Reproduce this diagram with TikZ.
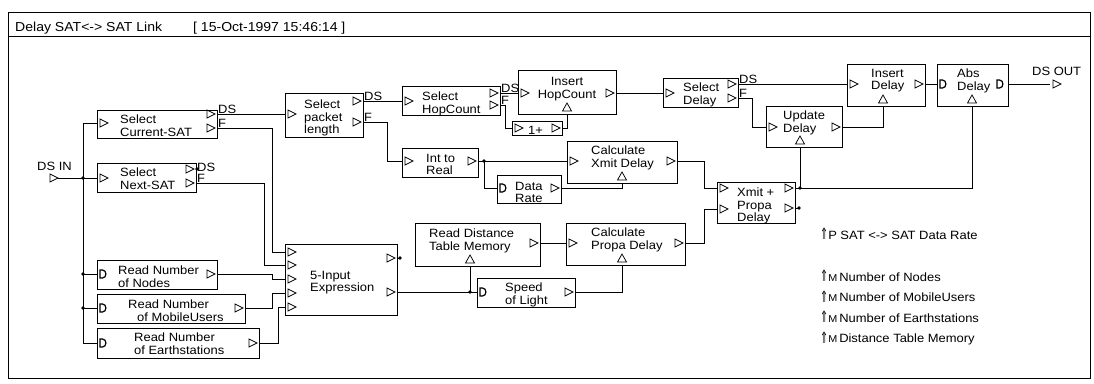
\documentclass[tikz,border=0pt]{standalone}
\usepackage{fontspec}
\usepackage{graphicx}
\setmainfont[FakeStretch=1.08]{Liberation Sans}
\newfontfamily\symfont{DejaVu Sans}
\newcommand\uparr{\raisebox{-0.5pt}{\scalebox{0.8}[1.3]{\symfont ⇑}}}
\tikzset{
  wire/.style={line width=0.9pt},
  blk/.style={draw,line width=0.9pt,inner sep=0pt,anchor=north west},
  port/.style={draw,line width=0.75pt,line join=miter},
  dport/.style={draw,line width=1.2pt},
  txt/.style={inner sep=0pt,anchor=north west,align=left,font=\fontsize{12}{12.5}\selectfont},
  lab/.style={inner sep=0pt,anchor=base west,font=\fontsize{12}{12.5}\selectfont},
  ttl/.style={inner sep=0pt,anchor=base west,font=\fontsize{13}{14}\selectfont},
  jdot/.style={fill,circle,inner sep=0pt,minimum size=3.6pt},
  pics/inp/.style={code={\draw[port] (3,-4) -- (11,0) -- (3,4) -- cycle;}},
  pics/outp/.style={code={\draw[port] (-10,-4) -- (-2,0) -- (-10,4) -- cycle;}},
  pics/upp/.style={code={\draw[port] (-4.5,-3) -- (0,-11) -- (4.5,-3) -- cycle;}},
  pics/dinp/.style={code={\draw[dport] (3,-4) -- (5.5,-4) .. controls (10,-4) and (10,4) .. (5.5,4) -- (3,4) -- cycle;}},
  pics/doutp/.style={code={\draw[dport] (-11,-4) -- (-8.5,-4) .. controls (-4,-4) and (-4,4) .. (-8.5,4) -- (-11,4) -- cycle;}},
}
\begin{document}
\begin{tikzpicture}[x=1pt,y=-1pt]
\useasboundingbox (0,0) rectangle (1094,383);
% frame
\draw[line width=1pt] (8,12) rectangle (1090,378);
\draw[line width=1pt] (8,36) -- (1090,36);
\node[ttl] (title) at (15,31) {Delay SAT<-> SAT Link};
\node[ttl] (date) at (193,31) {[ 15-Oct-1997 15:46:14 ]};

% blocks
\node[blk,minimum width=120,minimum height=28] (csat) at (97,110) {};
\node[blk,minimum width=99,minimum height=29] (nsat) at (97,163) {};
\node[blk,minimum width=120,minimum height=29] (nodes) at (97,260) {};
\node[blk,minimum width=148,minimum height=29] (mob) at (97,294) {};
\node[blk,minimum width=162,minimum height=30] (earth) at (97,328) {};
\node[blk,minimum width=112,minimum height=71] (expr) at (285,244) {};
\node[blk,minimum width=78,minimum height=44] (spl) at (285,93) {};
\node[blk,minimum width=98,minimum height=29] (shc) at (402,86) {};
\node[blk,minimum width=98,minimum height=44] (ihc) at (518,70) {};
\node[blk,minimum width=50,minimum height=14] (one) at (512,121) {};
\node[blk,minimum width=76,minimum height=29] (itr) at (402,148) {};
\node[blk,minimum width=64,minimum height=28] (dr) at (497,175) {};
\node[blk,minimum width=110,minimum height=42] (cxd) at (567,141) {};
\node[blk,minimum width=75,minimum height=29] (sd) at (663,78) {};
\node[blk,minimum width=76,minimum height=41] (ud) at (766,106) {};
\node[blk,minimum width=78,minimum height=42] (id) at (847,64) {};
\node[blk,minimum width=71,minimum height=42] (ad) at (937,64) {};
\node[blk,minimum width=78,minimum height=41] (xpd) at (717,182) {};
\node[blk,minimum width=125,minimum height=43] (rdt) at (415,223) {};
\node[blk,minimum width=119,minimum height=42] (cpd) at (566,223) {};
\node[blk,minimum width=98,minimum height=29] (sol) at (477,278) {};

% block texts
\node[txt] (tcsat) at (120,115) {Select\\Current-SAT};
\node[txt] (tnsat) at (120,168) {Select\\Next-SAT};
\node[txt] (tnodes) at (118,266) {Read Number\\of Nodes};
\node[txt] (tmob) at (128,300) {Read Number\\\hspace*{9pt}of MobileUsers};
\node[txt] (tearth) at (134,333) {Read Number\\of Earthstations};
\node[txt] (texpr) at (310,271) {5-Input\\Expression};
\node[txt] (tspl) at (304,100) {Select\\packet\\length};
\node[txt] (tshc) at (422,92) {Select\\HopCount};
\node[txt,anchor=north,align=center] (tihc) at (567,77.5) {Insert\\HopCount};
\node[txt] (tone) at (528,126) {1+};
\node[txt] (titr) at (426,154) {Int to\\Real};
\node[txt] (tdr) at (515,182) {Data\\Rate};
\node[txt] (tcxd) at (591,146) {Calculate\\Xmit Delay};
\node[txt] (tsd) at (683,83) {Select\\Delay};
\node[txt] (tud) at (783,111) {Update\\Delay};
\node[txt] (tid) at (871,69) {Insert\\Delay};
\node[txt] (tad) at (957,69) {Abs\\Delay};
\node[txt] (txpd) at (737,188) {Xmit +\\Propa\\Delay};
\node[txt] (trdt) at (429,229) {Read Distance\\Table Memory};
\node[txt] (tcpd) at (591,228) {Calculate\\Propa Delay};
\node[txt] (tsol) at (505,283) {Speed\\of Light};

% port coordinates
\coordinate (dsin) at (58,178);
\coordinate (dsout) at (1050,84);
\coordinate (csat-i) at (97,123);
\coordinate (csat-ds) at (217,114);
\coordinate (csat-f) at (217,128);
\coordinate (nsat-i) at (97,178);
\coordinate (nsat-ds) at (196,169);
\coordinate (nsat-f) at (196,183);
\coordinate (nodes-i) at (97,274);
\coordinate (nodes-o) at (217,274);
\coordinate (mob-i) at (97,308);
\coordinate (mob-o) at (245,308);
\coordinate (earth-i) at (97,343);
\coordinate (earth-o) at (259,343);
\coordinate (expr-i1) at (285,252);
\coordinate (expr-i2) at (285,265);
\coordinate (expr-i3) at (285,279);
\coordinate (expr-i4) at (285,293);
\coordinate (expr-i5) at (285,307);
\coordinate (expr-o1) at (397,258);
\coordinate (expr-o2) at (397,292);
\coordinate (spl-i) at (285,114);
\coordinate (spl-ds) at (363,101);
\coordinate (spl-f) at (363,122);
\coordinate (shc-i) at (402,101);
\coordinate (shc-ds) at (500,93);
\coordinate (shc-f) at (500,105);
\coordinate (ihc-i) at (518,93);
\coordinate (ihc-o) at (616,93);
\coordinate (ihc-u) at (567,114);
\coordinate (one-i) at (512,128);
\coordinate (one-o) at (562,128);
\coordinate (itr-i) at (402,161);
\coordinate (itr-o) at (478,161);
\coordinate (dr-i) at (497,188);
\coordinate (dr-o) at (561,188);
\coordinate (cxd-i) at (567,161);
\coordinate (cxd-o) at (677,161);
\coordinate (cxd-u) at (622,183);
\coordinate (sd-i) at (663,93);
\coordinate (sd-ds) at (738,84);
\coordinate (sd-f) at (738,98);
\coordinate (ud-i) at (766,127);
\coordinate (ud-o) at (842,127);
\coordinate (ud-u) at (800,147);
\coordinate (id-i) at (847,84);
\coordinate (id-o) at (925,84);
\coordinate (id-u) at (883,106);
\coordinate (ad-i) at (937,84);
\coordinate (ad-o) at (1008,84);
\coordinate (ad-u) at (972,106);
\coordinate (xpd-i1) at (717,188);
\coordinate (xpd-i2) at (717,209);
\coordinate (xpd-o1) at (795,188);
\coordinate (xpd-o2) at (795,208);
\coordinate (rdt-o) at (540,243);
\coordinate (rdt-u) at (470,266);
\coordinate (cpd-i) at (566,243);
\coordinate (cpd-o) at (685,243);
\coordinate (cpd-u) at (622,265);
\coordinate (sol-i) at (477,292);
\coordinate (sol-o) at (575,292);
% junctions
\coordinate (j1) at (83,178);
\coordinate (j2) at (83,274);
\coordinate (j3) at (83,308);
\coordinate (j4) at (400,258);
\coordinate (j5) at (470,292);
\coordinate (j6) at (484,161);
\coordinate (j7) at (800,188);
\coordinate (j8) at (799,208);
\coordinate (j9) at (197,169);

% ports
\pic at (47,178) {inp};
\pic at (dsout) {inp};
\foreach \p in {csat-i,nsat-i,expr-i1,expr-i2,expr-i3,expr-i4,expr-i5,spl-i,shc-i,ihc-i,one-i,itr-i,cxd-i,sd-i,ud-i,id-i,xpd-i1,xpd-i2,cpd-i}
  \pic at (\p) {inp};
\foreach \p in {csat-ds,csat-f,nsat-ds,nsat-f,nodes-o,mob-o,earth-o,expr-o1,expr-o2,spl-ds,spl-f,shc-ds,shc-f,ihc-o,one-o,itr-o,dr-o,cxd-o,sd-ds,sd-f,ud-o,id-o,xpd-o1,xpd-o2,rdt-o,cpd-o,sol-o}
  \pic at (\p) {outp};
\foreach \p in {ihc-u,cxd-u,ud-u,id-u,ad-u,rdt-u,cpd-u}
  \pic at (\p) {upp};
\foreach \p in {nodes-i,mob-i,earth-i,dr-i,sol-i,ad-i}
  \pic at (\p) {dinp};
\pic at (ad-o) {doutp};

% wires
\draw[wire] (dsin) -- (nsat-i);
\draw[wire] (csat-i) -- ++(-14,0) |- (earth-i);
\draw[wire] (j2) -- (nodes-i);
\draw[wire] (j3) -- (mob-i);
\draw[wire] (csat-ds) -- (spl-i);
\draw[wire] (csat-f) -- ++(55,0) |- (expr-i1);
\draw[wire] (nsat-f) -- ++(68,0) |- (expr-i2);
\draw[wire] (nodes-o) -- ++(55,0) |- (expr-i3);
\draw[wire] (mob-o) -- ++(27,0) |- (expr-i4);
\draw[wire] (earth-o) -- ++(19,0) |- (expr-i5);
\draw[wire] (expr-o1) -- (j4);
\draw[wire] (nsat-ds) -- (j9);
\draw[wire] (xpd-o2) -- (j8);
\draw[wire] (expr-o2) -- (sol-i);
\draw[wire] (j5) -- (rdt-u);
\draw[wire] (rdt-o) -- (cpd-i);
\draw[wire] (cpd-o) -- ++(19,0) |- (xpd-i2);
\draw[wire] (sol-o) -| (cpd-u);
\draw[wire] (spl-ds) -- (shc-i);
\draw[wire] (spl-f) -- ++(24,0) |- (itr-i);
\draw[wire] (itr-o) -- (cxd-i);
\draw[wire] (j6) |- (dr-i);
\draw[wire] (dr-o) -| (cxd-u);
\draw[wire] (cxd-o) -- ++(27,0) |- (xpd-i1);
\draw[wire] (shc-ds) -- (ihc-i);
\draw[wire] (shc-f) -- ++(5,0) |- (one-i);
\draw[wire] (one-o) -| (ihc-u);
\draw[wire] (ihc-o) -- (sd-i);
\draw[wire] (sd-ds) -- (id-i);
\draw[wire] (sd-f) -- ++(14,0) |- (ud-i);
\draw[wire] (ud-o) -| (id-u);
\draw[wire] (id-o) -- (ad-i);
\draw[wire] (ad-o) -- (dsout);
\draw[wire] (xpd-o1) -| (ad-u);
\draw[wire] (j7) -- (ud-u);
% junction dots
\foreach \j in {j1,j2,j3,j4,j5,j6,j7,j8,j9}
  \node[jdot] (\j d) at (\j) {};

% port labels
\node[lab] (lcsatds) at (218,113.5) {DS};
\node[lab] (lcsatf) at (218,127.5) {F};
\node[lab] (lnsatds) at (197,171) {DS};
\node[lab] (lnsatf) at (197,182.5) {F};
\node[lab] (lsplds) at (364,100.5) {DS};
\node[lab] (lsplf) at (364,121.5) {F};
\node[lab] (lshcds) at (501,92.5) {DS};
\node[lab] (lshcf) at (501,104.5) {F};
\node[lab] (lsdds) at (739,83.5) {DS};
\node[lab] (lsdf) at (739,97.5) {F};
\node[lab] (ldsin) at (37,170) {DS IN};
\node[lab] (ldsout) at (1032,75) {DS OUT};

% parameter list
\node[lab] (p1) at (820,239) {\uparr P SAT <-> SAT Data Rate};
\node[lab] (m1) at (820,281) {\uparr{\fontsize{10}{10}\selectfont M}\,Number of Nodes};
\node[lab] (m2) at (820,301.5) {\uparr{\fontsize{10}{10}\selectfont M}\,Number of MobileUsers};
\node[lab] (m3) at (820,322) {\uparr{\fontsize{10}{10}\selectfont M}\,Number of Earthstations};
\node[lab] (m4) at (820,342.5) {\uparr{\fontsize{10}{10}\selectfont M}\,Distance Table Memory};
\end{tikzpicture}
\end{document}
